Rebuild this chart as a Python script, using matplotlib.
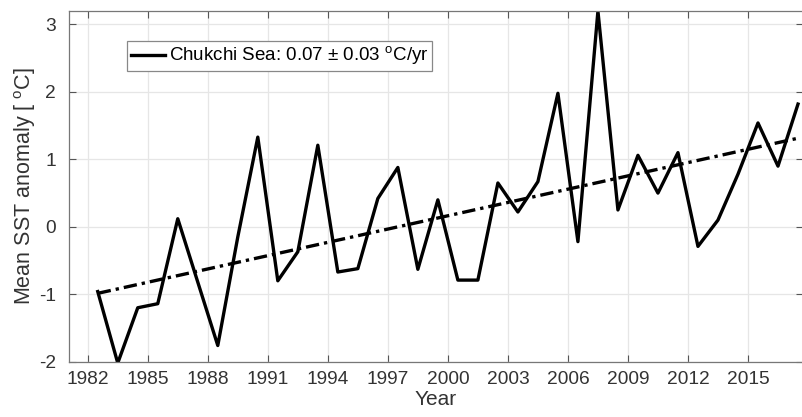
import numpy as np
import matplotlib.pyplot as plt

plt.rcParams['font.family'] = ['Liberation Sans', 'DejaVu Sans']
plt.rcParams['mathtext.fontset'] = 'custom'
plt.rcParams['mathtext.rm'] = 'Liberation Sans'

# annual mean SST anomaly, Chukchi Sea (plotted at mid-year)
years = np.arange(1982, 2018) + 0.5
sst_anom = [-0.96, -2.02, -1.20, -1.14, 0.12, -0.82, -1.76, -0.15, 1.33, -0.80,
            -0.37, 1.21, -0.67, -0.62, 0.42, 0.88, -0.63, 0.40, -0.79, -0.79,
            0.65, 0.22, 0.67, 1.98, -0.22, 3.20, 0.25, 1.06, 0.50, 1.10,
            -0.29, 0.10, 0.78, 1.54, 0.90, 1.82]
xticks = [1982, 1985, 1988, 1991, 1994, 1997, 2000, 2003, 2006, 2009, 2012, 2015]
yticks = [-2, -1, 0, 1, 2, 3]

slope, icpt = np.polyfit(years, sst_anom, 1)
trend = slope * years + icpt

fig = plt.figure(figsize=(8.03, 4.17), dpi=100)
ax = fig.add_axes([0.0856, 0.1326, 0.9144, 0.841])

ax.plot(years, sst_anom, color='black', lw=2.4,
        label='Chukchi Sea: 0.07 $\\pm$ 0.03 $^{\\rm o}$C/yr')
ax.plot(years, trend, color='black', lw=2.4, linestyle=(0, (4, 1.5, 1, 1.5)))

ax.set_xlim(1981.05, 2017.75)
ax.set_ylim(-2, 3.2)
ax.set_xticks(xticks)
ax.set_yticks(yticks)
ax.set_yticklabels([str(t) for t in yticks])  # plain hyphen minus
ax.grid(True, color='#e6e6e6', lw=0.9)
ax.set_axisbelow(True)

ax.tick_params(direction='in', length=5, width=0.8, color='#555555',
               labelcolor='#333333', labelsize=13.8, top=True, right=True)
ax.tick_params(axis='x', pad=7)
ax.tick_params(axis='y', pad=9)
for side in ['left', 'bottom', 'top']:
    ax.spines[side].set_color('#777777')
    ax.spines[side].set_linewidth(0.9)
ax.spines['right'].set_visible(False)

ax.set_xlabel('Year', fontsize=15, color='#333333', labelpad=1)
ax.set_ylabel('Mean SST anomaly [ $^{\\rm o}$C]', fontsize=15.5, color='#333333', labelpad=1)

leg = ax.legend(loc='upper left', bbox_to_anchor=(0.080, 0.915), borderaxespad=0,
                fontsize=13.5, handlelength=1.8, handletextpad=0.2, borderpad=0.2,
                fancybox=False, framealpha=1, edgecolor='#888888')
leg.get_frame().set_linewidth(0.9)

fig.savefig('out.png', dpi=100)
